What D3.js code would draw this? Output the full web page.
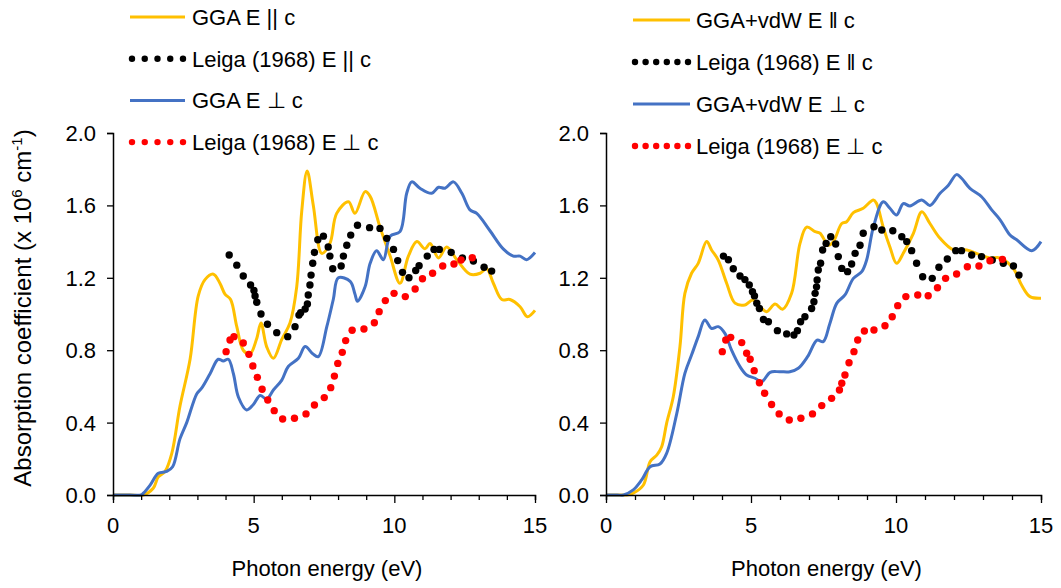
<!DOCTYPE html>
<html><head><meta charset="utf-8">
<script src="https://cdn.jsdelivr.net/npm/d3@7"></script>
<style>body{margin:0;background:#fff;} text{font-family:"Liberation Sans",Arial,sans-serif;}</style>
</head><body>
<svg id="c" width="1061" height="588"></svg>
<script>
// ---- Data (x = photon energy eV, y = absorption coefficient x10^6 cm^-1) ----
const xTicks = [0,5,10,15];
const yTicks = [0.0,0.4,0.8,1.2,1.6,2.0];
const legendLeft = ["GGA E || c","Leiga (1968) E || c","GGA E \u22A5 c","Leiga (1968) E \u22A5 c"];
const legendRight = ["GGA+vdW E \u2016 c","Leiga (1968) E \u2016 c","GGA+vdW E \u22A5 c","Leiga (1968) E \u22A5 c"];

const ggaPar = [[0,0],[0.6,0],[1.08,0],[1.43,0.037],[1.61,0.10],[1.85,0.13],[2.09,0.23],[2.38,0.49],[2.74,0.75],[3.03,1.10],[3.27,1.19],[3.57,1.22],[3.80,1.17],[3.98,1.11],[4.18,1.08],[4.40,0.93],[4.63,0.80],[4.87,0.78],[5.10,0.86],[5.26,0.95],[5.46,0.82],[5.70,0.755],[6.00,0.86],[6.29,0.95],[6.53,1.15],[6.71,1.57],[6.90,1.79],[7.12,1.60],[7.42,1.335],[7.71,1.39],[7.95,1.556],[8.37,1.62],[8.60,1.556],[8.96,1.676],[9.14,1.65],[9.49,1.48],[9.85,1.32],[10.20,1.17],[10.50,1.32],[10.80,1.40],[11.09,1.36],[11.27,1.39],[11.57,1.31],[11.86,1.37],[12.22,1.30],[12.69,1.22],[13.05,1.225],[13.28,1.25],[13.52,1.17],[13.82,1.08],[14.11,1.08],[14.47,1.04],[14.73,0.985],[15.0,1.02]];
const ggaPerp = [[0,0],[0.6,0],[1.0,0],[1.08,0.01],[1.32,0.055],[1.61,0.12],[1.91,0.13],[2.12,0.156],[2.38,0.31],[2.62,0.40],[2.98,0.56],[3.15,0.59],[3.45,0.67],[3.74,0.75],[3.92,0.74],[4.10,0.75],[4.28,0.67],[4.46,0.54],[4.75,0.47],[4.99,0.50],[5.23,0.55],[5.46,0.53],[5.70,0.58],[6.00,0.635],[6.23,0.71],[6.59,0.755],[6.83,0.82],[7.10,0.78],[7.30,0.765],[7.60,0.93],[7.83,1.08],[8.01,1.20],[8.43,1.18],[8.60,1.11],[8.69,1.07],[8.96,1.15],[9.14,1.28],[9.37,1.35],[9.61,1.30],[9.85,1.43],[10.20,1.455],[10.44,1.667],[10.62,1.73],[10.91,1.695],[11.33,1.667],[11.57,1.70],[11.80,1.695],[12.10,1.73],[12.40,1.667],[12.69,1.575],[12.93,1.556],[13.40,1.46],[13.87,1.36],[14.23,1.32],[14.47,1.32],[14.70,1.30],[15.0,1.34]];
const leigaParL = [[4.13,1.326],[4.40,1.27],[4.63,1.21],[4.89,1.16],[5.01,1.13],[5.05,1.10],[5.11,1.065],[5.26,1.0],[5.49,0.943],[5.82,0.897],[6.21,0.875],[6.47,0.93],[6.61,0.994],[6.67,1.007],[6.83,1.028],[6.91,1.055],[6.94,1.105],[7.0,1.16],[7.04,1.215],[7.10,1.28],[7.16,1.34],[7.28,1.41],[7.48,1.43],[7.65,1.37],[7.71,1.32],[7.81,1.25],[8.11,1.265],[8.19,1.32],[8.31,1.38],[8.45,1.436],[8.69,1.49],[9.12,1.477],[9.49,1.473],[9.73,1.418],[9.97,1.357],[10.12,1.295],[10.29,1.23],[10.52,1.20],[10.76,1.24],[10.88,1.267],[11.17,1.32],[11.41,1.357],[11.60,1.357],[12.02,1.34],[12.42,1.31],[12.81,1.293],[13.19,1.258],[13.46,1.237]];
const leigaPerpL = [[4.02,0.792],[4.16,0.856],[4.30,0.875],[4.63,0.84],[4.83,0.777],[4.97,0.713],[5.13,0.65],[5.30,0.584],[5.50,0.525],[5.73,0.466],[6.03,0.42],[6.45,0.424],[6.86,0.448],[7.16,0.497],[7.51,0.538],[7.74,0.593],[7.87,0.657],[7.99,0.727],[8.15,0.788],[8.27,0.853],[8.50,0.91],[8.92,0.917],[9.29,0.952],[9.46,1.013],[9.68,1.074],[9.99,1.114],[10.39,1.096],[10.74,1.138],[11.0,1.195],[11.36,1.225],[11.72,1.265],[12.12,1.276],[12.37,1.298],[12.77,1.311]];

const vdwPar = [[0,0],[0.5,0],[0.71,0],[0.94,0.01],[1.29,0.055],[1.52,0.184],[1.75,0.22],[1.92,0.267],[2.09,0.396],[2.32,0.543],[2.55,0.82],[2.72,1.114],[2.95,1.225],[3.18,1.28],[3.47,1.40],[3.64,1.354],[3.87,1.298],[4.16,1.17],[4.45,1.06],[4.79,1.05],[5.06,1.077],[5.31,1.04],[5.54,1.013],[5.83,1.055],[6.09,1.026],[6.40,1.114],[6.69,1.39],[6.92,1.48],[7.21,1.455],[7.38,1.446],[7.67,1.38],[7.84,1.40],[8.13,1.50],[8.30,1.51],[8.53,1.56],[8.87,1.584],[9.22,1.63],[9.33,1.61],[9.56,1.48],[9.79,1.37],[10.02,1.28],[10.25,1.335],[10.60,1.446],[10.89,1.565],[11.17,1.50],[11.52,1.418],[11.98,1.354],[12.44,1.354],[12.90,1.326],[13.24,1.31],[13.59,1.31],[14.05,1.25],[14.33,1.16],[14.62,1.096],[15.0,1.087]];
const vdwPerp = [[0,0],[0.4,0],[0.6,0],[0.94,0.028],[1.23,0.083],[1.52,0.156],[1.86,0.171],[2.09,0.23],[2.44,0.45],[2.72,0.672],[2.95,0.773],[3.18,0.875],[3.41,0.967],[3.64,0.92],[3.87,0.93],[4.10,0.893],[4.33,0.80],[4.62,0.709],[4.85,0.663],[5.14,0.645],[5.37,0.626],[5.66,0.678],[6.00,0.681],[6.34,0.681],[6.63,0.70],[6.95,0.764],[7.28,0.856],[7.49,0.847],[7.72,0.948],[7.96,1.06],[8.24,1.105],[8.53,1.197],[8.82,1.234],[8.99,1.30],[9.22,1.48],[9.56,1.62],[9.79,1.584],[10.02,1.547],[10.25,1.61],[10.48,1.597],[10.89,1.63],[11.17,1.60],[11.52,1.667],[11.80,1.71],[12.09,1.77],[12.26,1.75],[12.55,1.694],[12.95,1.648],[13.30,1.575],[13.59,1.52],[13.93,1.436],[14.16,1.41],[14.68,1.35],[15.0,1.40]];
const leigaParR = [[4.05,1.32],[4.22,1.30],[4.39,1.25],[4.62,1.21],[4.79,1.19],[4.94,1.16],[5.05,1.123],[5.12,1.10],[5.20,1.06],[5.29,1.03],[5.43,0.97],[5.60,0.957],[5.91,0.908],[6.23,0.89],[6.48,0.884],[6.60,0.908],[6.71,0.957],[6.86,0.985],[7.09,1.03],[7.17,1.068],[7.21,1.114],[7.26,1.15],[7.28,1.188],[7.32,1.243],[7.40,1.28],[7.47,1.354],[7.59,1.39],[7.75,1.427],[7.92,1.387],[8.01,1.317],[8.13,1.252],[8.33,1.234],[8.47,1.276],[8.59,1.335],[8.76,1.38],[8.87,1.446],[9.24,1.482],[9.51,1.464],[9.89,1.46],[10.20,1.427],[10.37,1.40],[10.54,1.35],[10.71,1.28],[10.92,1.206],[11.25,1.197],[11.48,1.258],[11.77,1.304],[12.06,1.35],[12.26,1.35],[12.61,1.326],[12.95,1.317],[13.32,1.298],[13.70,1.28],[14.05,1.265],[14.24,1.215]];
const leigaPerpR = [[4.01,0.792],[4.13,0.856],[4.30,0.871],[4.68,0.842],[4.85,0.783],[4.97,0.75],[5.11,0.687],[5.29,0.62],[5.47,0.562],[5.71,0.50],[5.97,0.448],[6.32,0.414],[6.72,0.424],[7.12,0.448],[7.44,0.494],[7.78,0.534],[8.05,0.58],[8.13,0.617],[8.24,0.663],[8.38,0.731],[8.55,0.792],[8.68,0.856],[8.91,0.906],[9.24,0.912],[9.62,0.935],[9.87,0.985],[10.06,1.046],[10.34,1.096],[10.75,1.105],[11.11,1.101],[11.43,1.145],[11.71,1.197],[12.09,1.221],[12.46,1.261],[12.86,1.265],[13.24,1.294],[13.67,1.302]];

const YELLOW = "#FFC000", BLUE = "#4472C4", BLACK = "#000000", RED = "#FF0000";
const FS_TICK = 22, FS_LEG = 22, FS_XT = 22, FS_YT = 24;

const svg = d3.select("#c");

function panel(opts) {
  const x = d3.scaleLinear().domain([0,15]).range([opts.x0, opts.x1]);
  const y = d3.scaleLinear().domain([0,2]).range([495,133]);
  const g = svg.append("g");
  const line = d3.line().x(d=>x(d[0])).y(d=>y(d[1])).curve(d3.curveCatmullRom.alpha(0.5));
  g.append("path").datum(opts.par).attr("d", line).attr("fill","none").attr("stroke",YELLOW).attr("stroke-width",3).attr("stroke-linejoin","round");
  g.append("path").datum(opts.perp).attr("d", line).attr("fill","none").attr("stroke",BLUE).attr("stroke-width",3).attr("stroke-linejoin","round");
  g.selectAll(null).data(opts.lpar).enter().append("circle").attr("cx",d=>x(d[0])).attr("cy",d=>y(d[1])).attr("r",3.7).attr("fill",BLACK);
  g.selectAll(null).data(opts.lperp).enter().append("circle").attr("cx",d=>x(d[0])).attr("cy",d=>y(d[1])).attr("r",3.7).attr("fill",RED);
  // axes
  const xa = g.append("g").attr("transform",`translate(0,${y(0)})`)
    .call(d3.axisBottom(x).tickValues(d3.range(0,16)).tickSize(5).tickFormat(""));
  xa.select(".domain").attr("stroke","#000").attr("stroke-width",1.5);
  xa.selectAll(".tick line").attr("stroke","#000").attr("stroke-width",1.3)
    .attr("y2", d => xTicks.includes(d) ? 8 : 5);
  g.selectAll(null).data(xTicks).enter().append("text").attr("x",d=>x(d)).attr("y",533)
    .attr("text-anchor","middle").attr("font-size",FS_TICK).attr("fill","#000").text(d=>d);
  const ya = g.append("g").attr("transform",`translate(${opts.x0},0)`)
    .call(d3.axisLeft(y).tickValues(yTicks).tickSize(6).tickFormat(""));
  ya.select(".domain").attr("stroke","#000").attr("stroke-width",1.5);
  ya.selectAll(".tick line").attr("stroke","#000").attr("stroke-width",1.3);
  g.selectAll(null).data(yTicks).enter().append("text").attr("x",opts.x0-17).attr("y",d=>y(d)+8)
    .attr("text-anchor","end").attr("font-size",FS_TICK).attr("fill","#000").text(d=>d.toFixed(1));
  g.append("text").attr("x",(opts.x0+opts.x1)/2+3).attr("y",576).attr("text-anchor","middle")
    .attr("font-size",FS_XT).attr("fill","#000").text("Photon energy (eV)");
  // legend
  const L = opts.leg;
  const kinds = [["line",YELLOW],["dots",BLACK],["line",BLUE],["dots",RED]];
  kinds.forEach((k,i)=>{
    const cy = L.y0 + i*L.dy;
    if (k[0]==="line") {
      g.append("line").attr("x1",L.lx0).attr("x2",L.lx1).attr("y1",cy).attr("y2",cy).attr("stroke",k[1]).attr("stroke-width",3);
    } else {
      const n = L.ndots;
      for (let j=0;j<n;j++) g.append("circle").attr("cx",L.lx0+2+j*(L.lx1-L.lx0-4)/(n-1)).attr("cy",cy).attr("r",3.2).attr("fill",k[1]);
    }
    g.append("text").attr("x",L.tx).attr("y",cy+8).attr("font-size",FS_LEG).attr("fill","#000").text(opts.labels[i]);
  });
}

panel({x0:113, x1:535, par:ggaPar, perp:ggaPerp, lpar:leigaParL, lperp:leigaPerpL, labels:legendLeft,
  leg:{lx0:130, lx1:185, tx:192, y0:17, dy:41.7, ndots:5}});
panel({x0:606, x1:1041, par:vdwPar, perp:vdwPerp, lpar:leigaParR, lperp:leigaPerpR, labels:legendRight,
  leg:{lx0:633, lx1:690, tx:696, y0:20, dy:42, ndots:6}});

// y axis title
const yt = svg.append("text").attr("transform","translate(31,308) rotate(-90)").attr("text-anchor","middle")
  .attr("font-size",FS_YT).attr("fill","#000");
yt.append("tspan").text("Absorption coefficient (x 10");
yt.append("tspan").attr("font-size",15).attr("dy",-9).text("6");
yt.append("tspan").attr("dy",9).text(" cm");
yt.append("tspan").attr("font-size",15).attr("dy",-9).text("-1");
yt.append("tspan").attr("dy",9).text(")");
</script>
</body></html>
